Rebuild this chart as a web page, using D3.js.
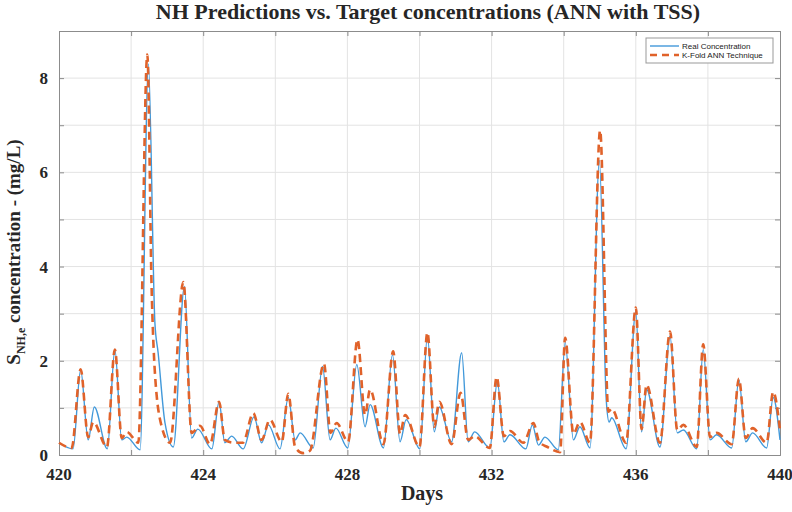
<!DOCTYPE html>
<html>
<head>
<meta charset="utf-8">
<script src="https://cdn.jsdelivr.net/npm/d3@7"></script>
<style>
  body { margin: 0; background: #fff; }
  svg text { font-family: "Liberation Serif", "Times New Roman", serif; font-weight: bold; }
</style>
</head>
<body>
<div id="chart"></div>
<script>
// real concentration (blue), days and values
var realDays = [420.00, 420.39, 420.60, 420.81, 420.98, 421.34, 421.55, 421.74, 421.88, 422.25,
  422.48, 422.66, 422.75, 422.94, 423.17, 423.48, 423.68, 423.85, 424.24, 424.44,
  424.60, 424.79, 425.11, 425.41, 425.62, 425.81, 426.13, 426.36, 426.55, 426.69,
  427.05, 427.31, 427.52, 427.68, 428.01, 428.26, 428.49, 428.63, 429.00, 429.25,
  429.46, 429.63, 430.01, 430.22, 430.41, 430.55, 430.89, 431.17, 431.35, 431.53,
  431.95, 432.16, 432.34, 432.51, 432.95, 433.13, 433.30, 433.48, 433.85, 434.04,
  434.27, 434.45, 434.73, 434.99, 435.18, 435.26, 435.33, 435.73, 436.00, 436.16,
  436.30, 436.67, 436.95, 437.15, 437.32, 437.69, 437.87, 438.06, 438.24, 438.66,
  438.86, 439.05, 439.24, 439.63, 439.81, 440.00];
var realVals = [0.26, 0.13, 1.81, 0.32, 1.02, 0.13, 2.24, 0.32, 0.38, 0.11,
  8.30, 2.81, 2.17, 0.68, 0.17, 3.58, 0.36, 0.55, 0.13, 1.13,
  0.26, 0.40, 0.13, 0.81, 0.26, 0.64, 0.13, 1.22, 0.32, 0.47,
  0.15, 1.88, 0.32, 0.57, 0.15, 1.92, 0.60, 1.07, 0.15, 2.13,
  0.28, 0.75, 0.13, 2.52, 0.49, 1.02, 0.28, 2.17, 0.28, 0.49,
  0.15, 1.56, 0.28, 0.43, 0.13, 0.64, 0.21, 0.38, 0.11, 2.39,
  0.32, 0.60, 0.15, 6.25, 1.17, 0.70, 0.79, 0.13, 3.05, 0.49,
  1.39, 0.17, 2.52, 0.47, 0.53, 0.13, 2.24, 0.32, 0.43, 0.15,
  1.60, 0.28, 0.47, 0.15, 1.22, 0.32];

// K-Fold ANN prediction (orange dashed)
var predDays = [420.00, 420.35, 420.60, 420.81, 420.95, 421.33, 421.55, 421.74, 421.88, 422.20,
  422.45, 422.57, 422.66, 422.85, 423.08, 423.45, 423.68, 423.91, 424.19, 424.44,
  424.60, 424.85, 425.10, 425.39, 425.62, 425.85, 426.18, 426.36, 426.55, 426.77,
  426.96, 427.35, 427.53, 427.70, 428.02, 428.28, 428.49, 428.63, 429.00, 429.27,
  429.46, 429.60, 430.00, 430.22, 430.41, 430.55, 430.89, 431.14, 431.35, 431.53,
  431.95, 432.14, 432.34, 432.51, 432.88, 433.16, 433.32, 433.55, 433.90, 434.04,
  434.27, 434.45, 434.73, 435.01, 435.24, 435.33, 435.73, 436.00, 436.16, 436.30,
  436.67, 436.95, 437.15, 437.32, 437.69, 437.87, 438.06, 438.24, 438.66, 438.86,
  439.05, 439.24, 439.63, 439.81, 440.00];
var predVals = [0.26, 0.15, 1.82, 0.38, 0.70, 0.17, 2.24, 0.36, 0.49, 0.26,
  8.50, 3.52, 1.75, 0.60, 0.26, 3.67, 0.47, 0.62, 0.23, 1.13,
  0.32, 0.26, 0.26, 0.89, 0.32, 0.75, 0.28, 1.30, 0.17, 0.04,
  0.09, 1.94, 0.47, 0.68, 0.28, 2.45, 0.85, 1.39, 0.23, 2.20,
  0.45, 0.85, 0.17, 2.60, 0.60, 1.13, 0.23, 1.32, 0.32, 0.40,
  0.15, 1.66, 0.40, 0.51, 0.26, 0.68, 0.28, 0.17, 0.06, 2.49,
  0.45, 0.70, 0.26, 6.89, 0.92, 0.98, 0.26, 3.13, 0.55, 1.49,
  0.26, 2.62, 0.53, 0.64, 0.17, 2.35, 0.38, 0.47, 0.23, 1.62,
  0.36, 0.57, 0.26, 1.34, 0.53];

var xTicks = [420, 424, 428, 432, 436, 440];
var yTicks = [0, 2, 4, 6, 8];

var w = 792, h = 512;
var m = {left: 59, right: 12, top: 31, bottom: 57};

var svg = d3.select("#chart").append("svg")
  .attr("width", w)
  .attr("height", h);

var x = d3.scaleLinear().domain([420, 440]).range([m.left, w - m.right]);
var y = d3.scaleLinear().domain([0, 9]).range([h - m.bottom, m.top]);

// grid every 2 days and every 1 mg/L
svg.append("g").selectAll("line")
  .data(d3.range(422, 440, 2))
  .enter().append("line")
  .attr("x1", d => x(d)).attr("x2", d => x(d))
  .attr("y1", y(0)).attr("y2", y(9))
  .attr("stroke", "#e3e3e3");
svg.append("g").selectAll("line")
  .data(d3.range(1, 9))
  .enter().append("line")
  .attr("y1", d => y(d)).attr("y2", d => y(d))
  .attr("x1", x(420)).attr("x2", x(440))
  .attr("stroke", "#e3e3e3");

// axes with inward ticks on all four sides
var tickCol = "#8c8c8c";
svg.append("g")
  .attr("transform", "translate(0," + y(0) + ")")
  .call(d3.axisBottom(x).tickValues(d3.range(420, 441, 2)).tickSize(-5).tickFormat(""));
svg.append("g")
  .attr("transform", "translate(0," + y(9) + ")")
  .call(d3.axisTop(x).tickValues(d3.range(420, 441, 2)).tickSize(-5).tickFormat(""));
svg.append("g")
  .attr("transform", "translate(" + x(420) + ",0)")
  .call(d3.axisLeft(y).tickValues(d3.range(0, 10)).tickSize(-5).tickFormat(""));
svg.append("g")
  .attr("transform", "translate(" + x(440) + ",0)")
  .call(d3.axisRight(y).tickValues(d3.range(0, 10)).tickSize(-5).tickFormat(""));
svg.selectAll(".domain, .tick line").attr("stroke", tickCol);

// tick labels
svg.append("g").selectAll("text")
  .data(xTicks)
  .enter().append("text")
  .attr("x", d => x(d))
  .attr("y", y(0) + 25)
  .attr("text-anchor", "middle")
  .attr("font-size", 17)
  .attr("fill", "#262626")
  .text(d => d);
svg.append("g").selectAll("text")
  .data(yTicks)
  .enter().append("text")
  .attr("x", x(420) - 11)
  .attr("y", d => y(d) + 6)
  .attr("text-anchor", "end")
  .attr("font-size", 17)
  .attr("fill", "#262626")
  .text(d => d);

// lines
var line = d3.line()
  .x(d => x(d[0]))
  .y(d => y(d[1]))
  .curve(d3.curveMonotoneX);

var realData = d3.zip(realDays, realVals);
var predData = d3.zip(predDays, predVals);

svg.append("path")
  .datum(realData)
  .attr("d", line)
  .attr("fill", "none")
  .attr("stroke", "#4299da")
  .attr("stroke-width", 1.4);

svg.append("path")
  .datum(predData)
  .attr("d", line)
  .attr("fill", "none")
  .attr("stroke", "#e0622a")
  .attr("stroke-width", 2.6)
  .attr("stroke-dasharray", "8,5");

// title and axis labels
svg.append("text")
  .attr("x", 428).attr("y", 19)
  .attr("text-anchor", "middle")
  .attr("font-size", 22)
  .attr("fill", "#262626")
  .text("NH Predictions vs. Target concentrations (ANN with TSS)");

svg.append("text")
  .attr("x", 422).attr("y", 500)
  .attr("text-anchor", "middle")
  .attr("font-size", 20)
  .attr("fill", "#262626")
  .text("Days");

var yl = svg.append("text")
  .attr("transform", "translate(20,252) rotate(-90)")
  .attr("text-anchor", "middle")
  .attr("font-size", 19)
  .attr("fill", "#262626");
yl.append("tspan").text("S");
yl.append("tspan").attr("font-size", 12).attr("dy", 5).text("NH,e");
yl.append("tspan").attr("dy", -5).text(" concentration - (mg/L)");

// legend
var lg = svg.append("g").attr("transform", "translate(646,38)");
lg.append("rect")
  .attr("width", 127).attr("height", 25)
  .attr("fill", "#fff")
  .attr("stroke", "#999");
lg.append("line")
  .attr("x1", 4).attr("x2", 33).attr("y1", 8).attr("y2", 8)
  .attr("stroke", "#4299da").attr("stroke-width", 1.4);
lg.append("line")
  .attr("x1", 4).attr("x2", 33).attr("y1", 17).attr("y2", 17)
  .attr("stroke", "#e0622a").attr("stroke-width", 2.4)
  .attr("stroke-dasharray", "7,5");
lg.selectAll(".lt")
  .data(["Real Concentration", "K-Fold ANN Technique"])
  .enter().append("text")
  .attr("x", 36)
  .attr("y", (d, i) => 11 + i * 9)
  .attr("font-size", 8)
  .style("font-family", "'Liberation Sans', Arial, sans-serif")
  .style("font-weight", "normal")
  .attr("fill", "#222")
  .text(d => d);
</script>
</body>
</html>
